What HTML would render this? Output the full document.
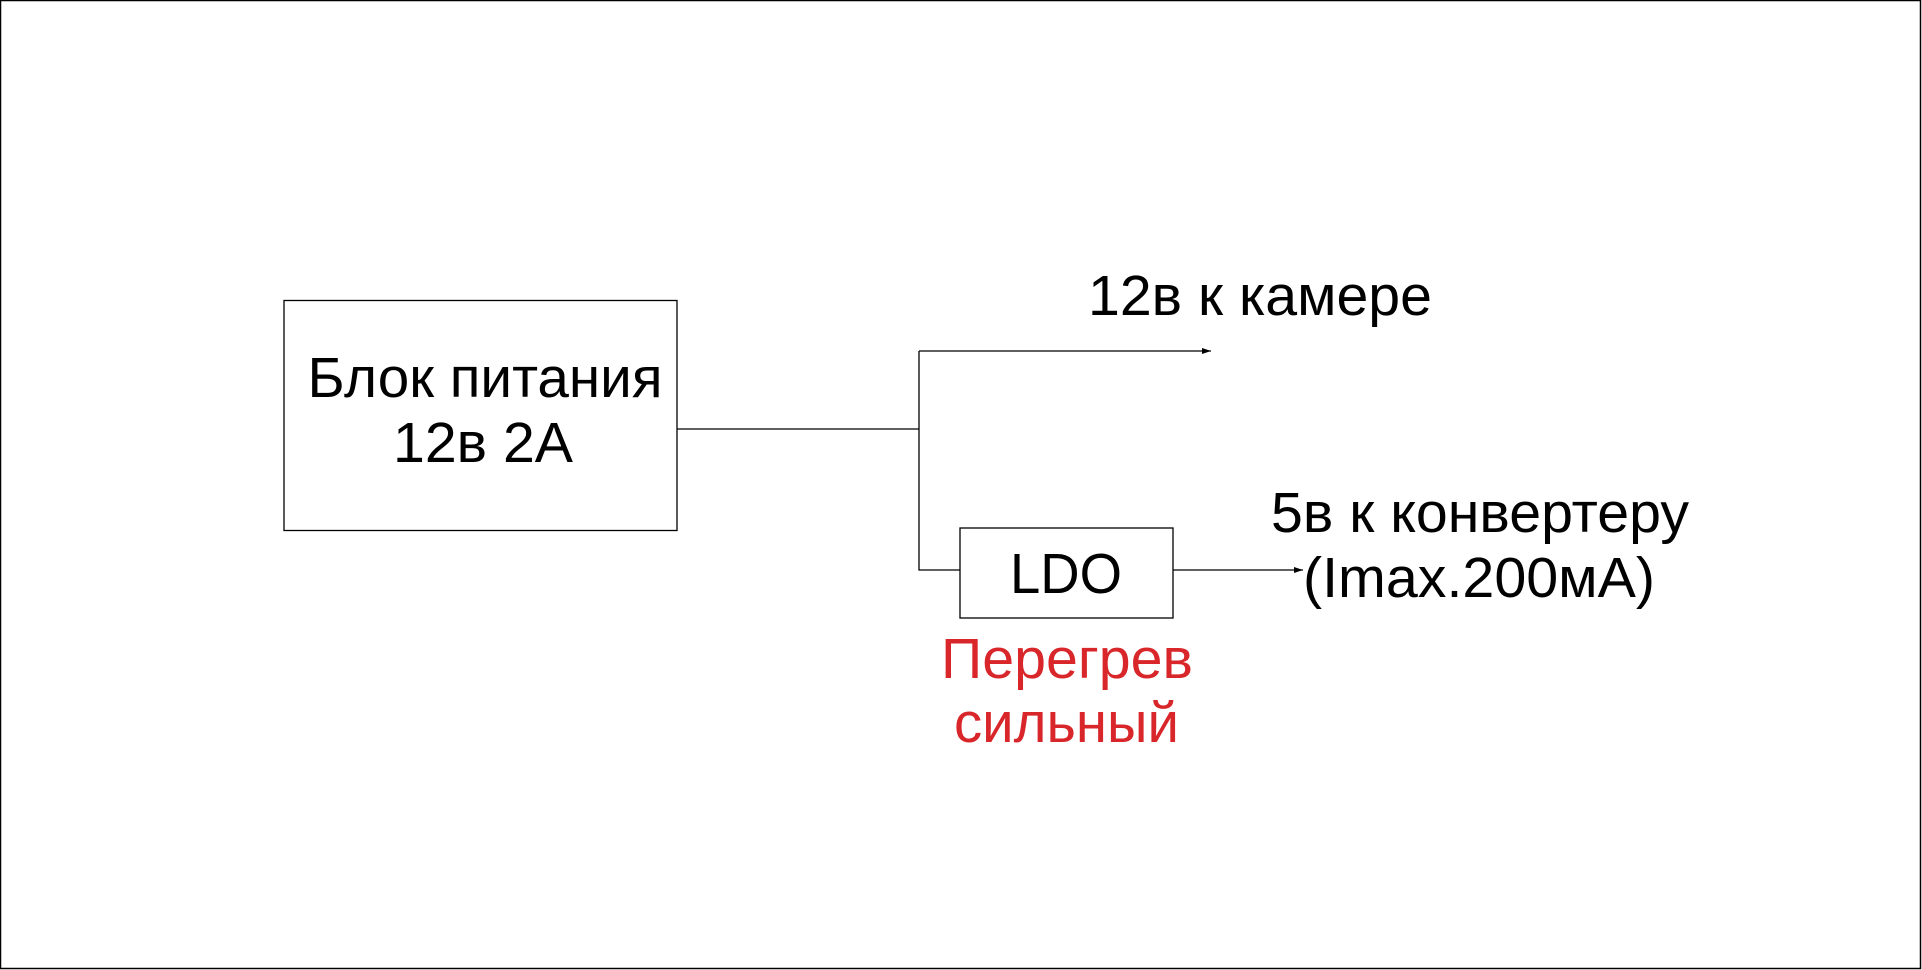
<!DOCTYPE html>
<html><head><meta charset="utf-8"><style>
html,body{margin:0;padding:0;background:#fff;}
svg{display:block;}
text{font-family:"Liberation Sans",Arial,sans-serif;font-size:57px;}
</style></head><body>
<svg width="1922" height="970" viewBox="0 0 1922 970" xmlns="http://www.w3.org/2000/svg">
<defs><marker id="a" markerWidth="10" markerHeight="8" refX="9" refY="4" orient="auto" markerUnits="userSpaceOnUse"><path d="M0,1 L9,4 L0,7 z" fill="#000"/></marker></defs>
<rect x="0.5" y="0.5" width="1920" height="968" fill="#fff" stroke="#000" stroke-width="1.5"/>
<rect x="284" y="300.5" width="393" height="230" fill="none" stroke="#000" stroke-width="1.3"/>
<text x="485" y="397" text-anchor="middle" textLength="355" lengthAdjust="spacingAndGlyphs">Блок питания</text>
<text x="483" y="462" text-anchor="middle" textLength="180" lengthAdjust="spacingAndGlyphs">12в 2А</text>
<path d="M677,429 H919 M919,351 V570 H960" fill="none" stroke="#000" stroke-width="1.3"/>
<path d="M919,351 H1211" fill="none" stroke="#000" stroke-width="1.3" marker-end="url(#a)"/>
<rect x="960" y="528" width="213" height="90" fill="none" stroke="#000" stroke-width="1.3"/>
<text x="1066" y="593" text-anchor="middle" textLength="112" lengthAdjust="spacingAndGlyphs">LDO</text>
<path d="M1173,570 H1303" fill="none" stroke="#000" stroke-width="1.3" marker-end="url(#a)"/>
<text x="1088" y="315" textLength="344" lengthAdjust="spacingAndGlyphs">12в к камере</text>
<text x="1271" y="532" textLength="418" lengthAdjust="spacingAndGlyphs">5в к конвертеру</text>
<text x="1303" y="597" textLength="352" lengthAdjust="spacingAndGlyphs">(Imax.200мА)</text>
<text x="941" y="678" fill="#d8262a" textLength="252" lengthAdjust="spacingAndGlyphs">Перегрев</text>
<text x="954" y="742" fill="#d8262a" textLength="225" lengthAdjust="spacingAndGlyphs">сильный</text>
</svg>
</body></html>
